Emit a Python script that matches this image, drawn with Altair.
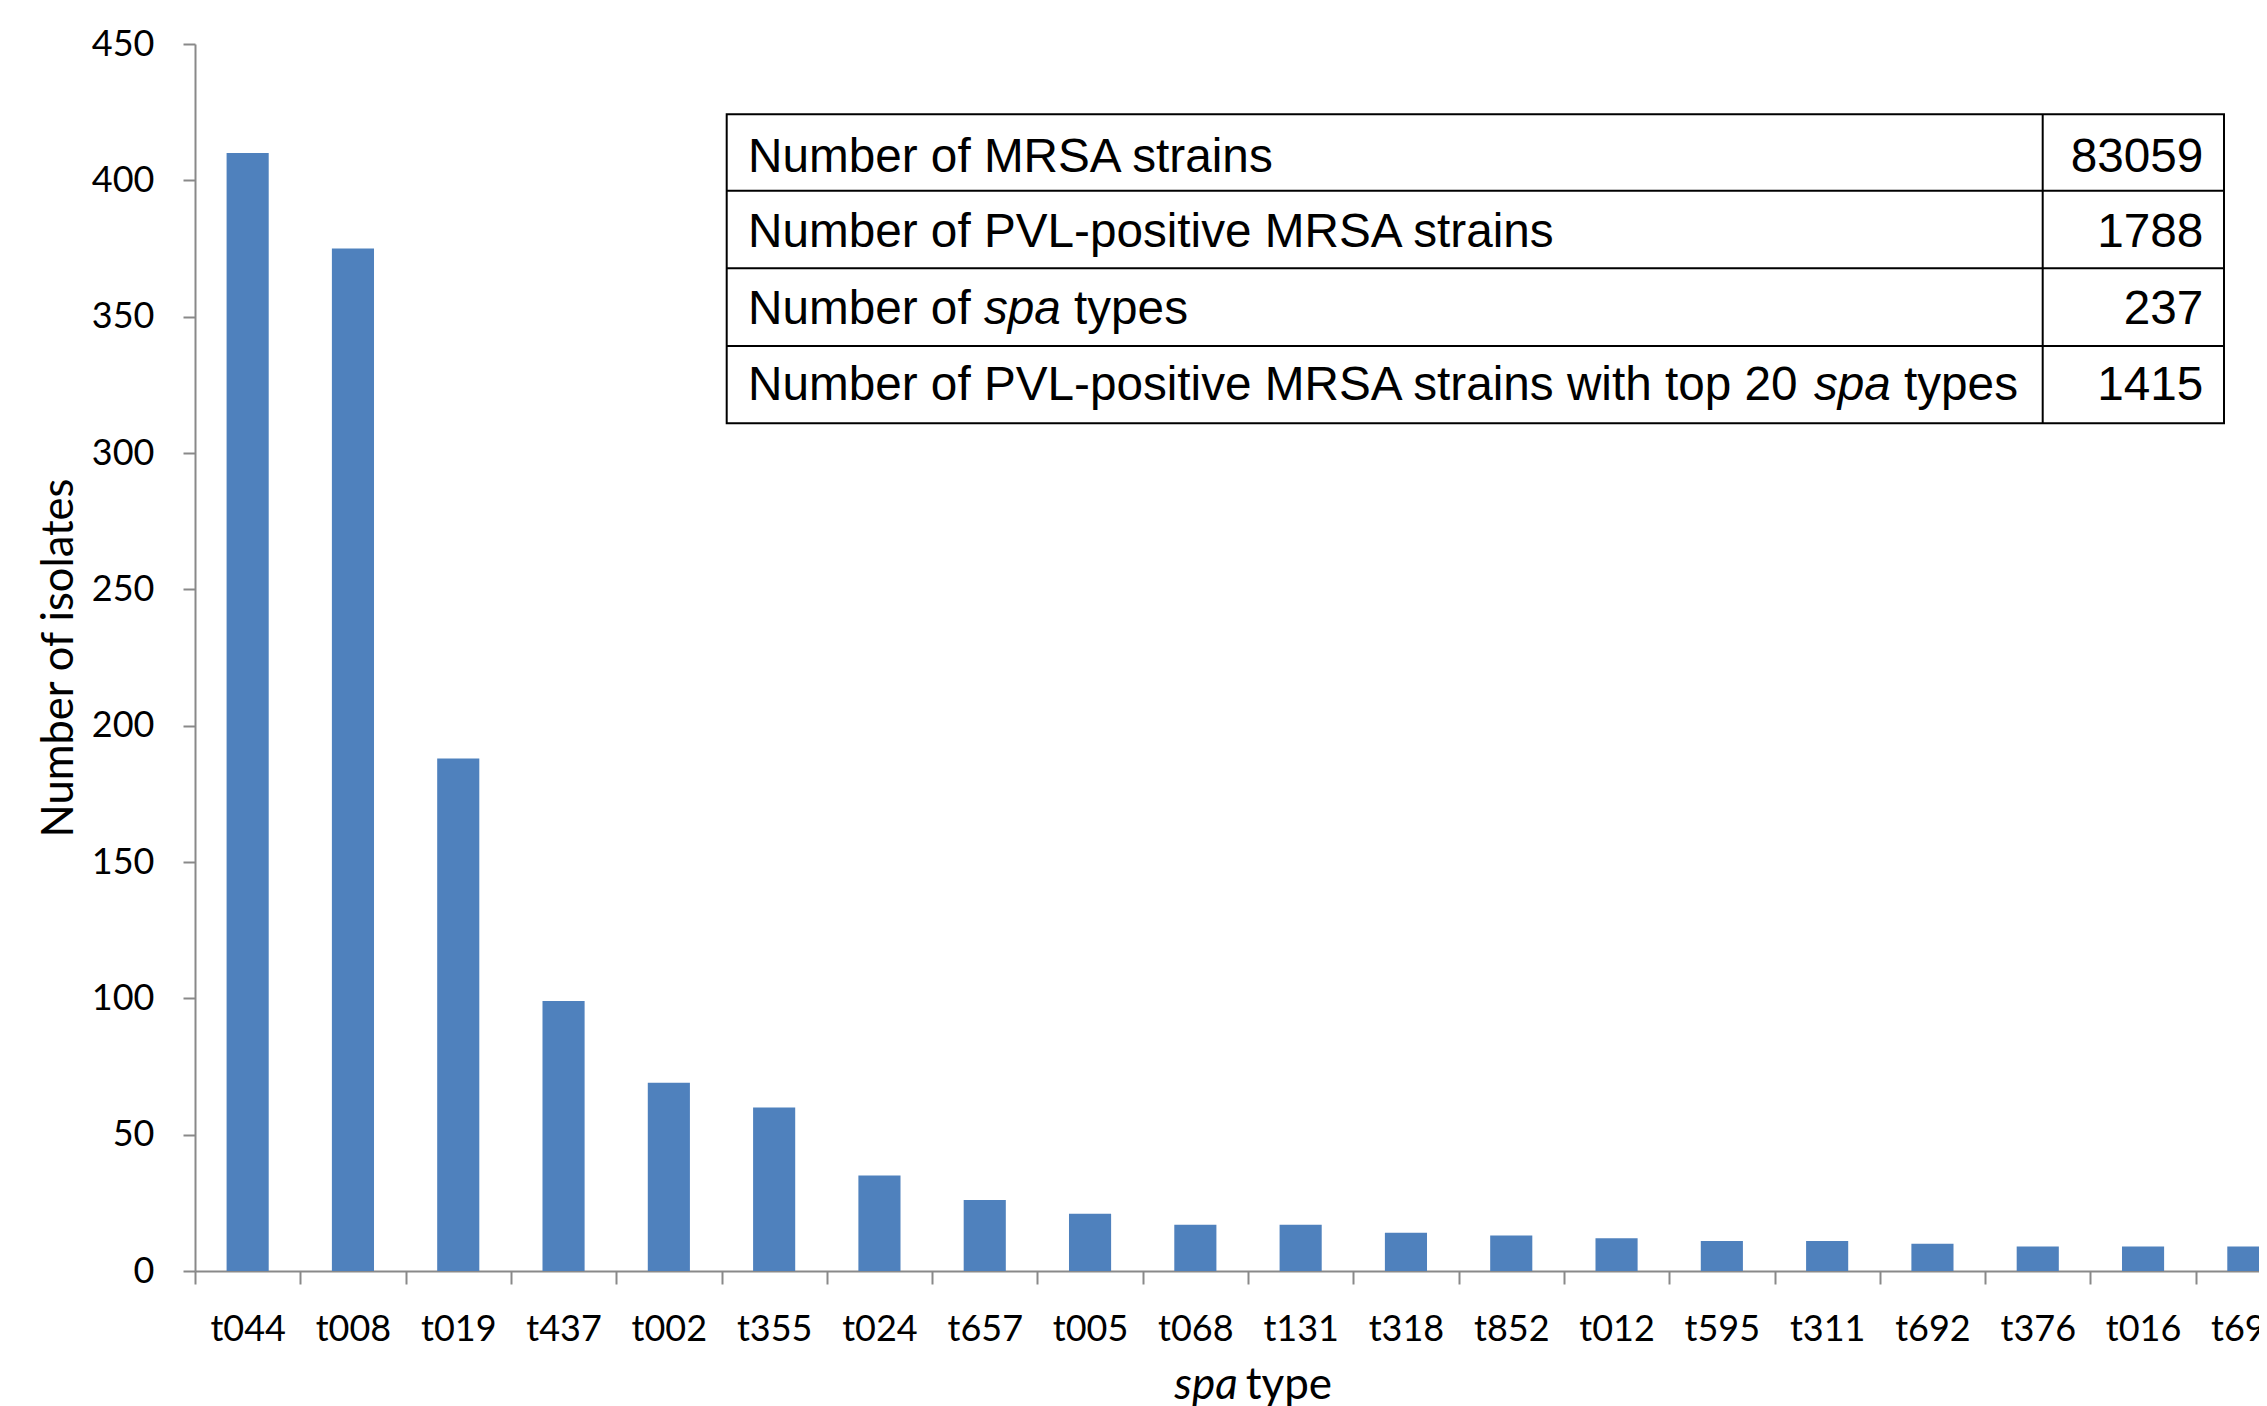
import altair as alt
import pandas as pd

# ---------------- data ----------------
spa_types = ["t044", "t008", "t019", "t437", "t002", "t355", "t024", "t657", "t005", "t068",
             "t131", "t318", "t852", "t012", "t595", "t311", "t692", "t376", "t016", "t690"]
isolates = [410, 375, 188, 99, 69, 60, 35, 26, 21, 17, 17, 14, 13, 12, 11, 11, 10, 9, 9, 9]
y_tick_values = [0, 50, 100, 150, 200, 250, 300, 350, 400, 450]

y_title = "Number of isolates"
x_title_italic = "spa"
x_title_plain = "type"

table_plain = ["Number of MRSA strains",
               "Number of PVL-positive MRSA strains",
               "Number of ",
               "Number of PVL-positive MRSA strains with top 20 "]
table_italic = ["", "", "spa", "spa"]
table_tail = ["", "", "types", "types"]
table_values = ["83059", "1788", "237", "1415"]

df = pd.DataFrame({"spa": spa_types, "n": isolates})

# ---------------- layout (pixels, relative to plot origin) ----------------
PAD_L, PAD_T = 187, 36
W, H = 2064, 1227
BAND_RANGE = 2106

GREY = "#898989"
LABEL_FONT = "Lato"
TABLE_FONT = "Liberation Sans"

bars = alt.Chart(df).mark_bar(color="#4F81BD", width=alt.RelativeBandSize(0.4)).encode(
    x=alt.X("spa:N", sort=spa_types,
            scale=alt.Scale(range=[0, BAND_RANGE], paddingInner=0, paddingOuter=0),
            axis=alt.Axis(title=None, labelAngle=0, labelFont=LABEL_FONT, labelFontSize=36,
                          labelColor="black", labelPadding=28, labelOverlap=False,
                          tickSize=13, tickColor=GREY, tickWidth=2, tickBand="extent",
                          domainColor=GREY, domainWidth=2)),
    y=alt.Y("n:Q", scale=alt.Scale(domain=[0, 450], nice=False, zero=True),
            axis=alt.Axis(title=y_title, values=y_tick_values, grid=False,
                          labelFont=LABEL_FONT, labelFontSize=36, labelColor="black",
                          labelPadding=29, tickSize=12, tickColor=GREY, tickWidth=2,
                          domainColor=GREY, domainWidth=2,
                          titleFont=LABEL_FONT, titleFontSize=43.5, titleFontWeight="normal",
                          titleColor="black", titlePadding=10)),
)


def one_row():
    return pd.DataFrame({"k": [0]})


def text_layer(txt, x, y, size, font, align="left", style="normal"):
    return alt.Chart(pd.DataFrame({"t": [txt]})).mark_text(
        align=align, baseline="alphabetic", font=font, fontSize=size,
        fontStyle=style, color="black"
    ).encode(x=alt.value(x), y=alt.value(y), text="t:N")


# table geometry
T_L, T_R, T_DIV = 531.7, 2029, 1847.7
T_TOP, T_BOT = 70.3, 379.3
ROW_LINES = [146.7, 224.3, 302]
BASELINES = [127.7, 203.3, 280, 356]
TXT_X = 553
NUM_X = 2008.3
ITALIC_X = [None, None, 789, 1619]
TAIL_X = [None, None, 879, 1709]
TFS = 47.7

layers = [bars]

layers.append(alt.Chart(one_row()).mark_rect(fill="white", stroke="black", strokeWidth=2).encode(
    x=alt.value(T_L), x2=alt.value(T_R), y=alt.value(T_TOP), y2=alt.value(T_BOT)))
for ly in ROW_LINES:
    layers.append(alt.Chart(one_row()).mark_rule(color="black", strokeWidth=2).encode(
        x=alt.value(T_L), x2=alt.value(T_R), y=alt.value(ly)))
layers.append(alt.Chart(one_row()).mark_rule(color="black", strokeWidth=2).encode(
    x=alt.value(T_DIV), y=alt.value(T_TOP), y2=alt.value(T_BOT)))

for i in range(len(table_plain)):
    layers.append(text_layer(table_plain[i], TXT_X, BASELINES[i], TFS, TABLE_FONT))
    if table_italic[i]:
        layers.append(text_layer(table_italic[i], ITALIC_X[i], BASELINES[i], TFS, TABLE_FONT,
                                 style="italic"))
        layers.append(text_layer(table_tail[i], TAIL_X[i], BASELINES[i], TFS, TABLE_FONT))
    layers.append(text_layer(table_values[i], NUM_X, BASELINES[i], TFS, TABLE_FONT, align="right"))

# x axis title with italic "spa"
layers.append(text_layer(x_title_italic, 1042.7, 1355, 44, LABEL_FONT, align="right", style="italic"))
layers.append(text_layer(x_title_plain, 1050.7, 1355, 44, LABEL_FONT, align="left"))

chart = alt.layer(*layers).properties(
    width=W, height=H,
    autosize=alt.AutoSizeParams(type="none"),
    padding={"left": PAD_L, "top": PAD_T, "right": 0, "bottom": 140},
    background="white",
).configure_view(stroke=None)

chart.save("out.html", embed_options={"renderer": "svg", "actions": False})
